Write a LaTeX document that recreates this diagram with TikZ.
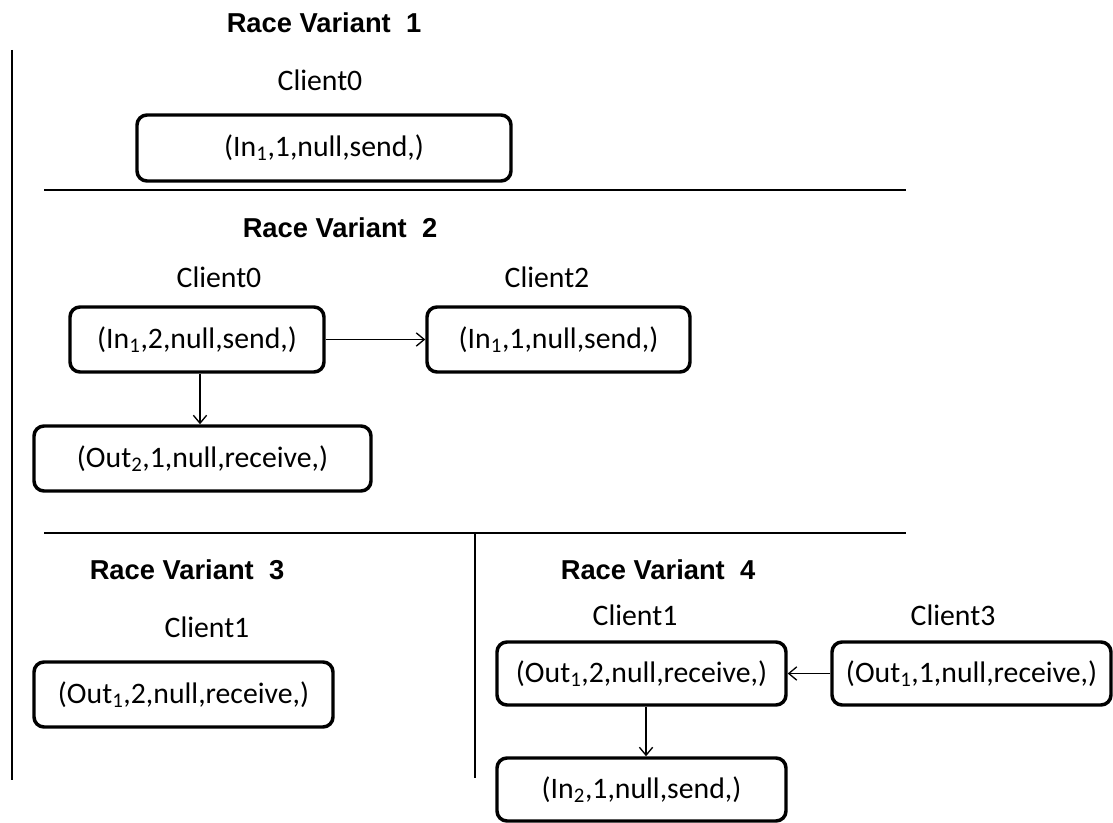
\documentclass[tikz,border=0pt]{standalone}
\usepackage{fontspec}
\setmainfont{Carlito}
\newfontfamily\headfont{Liberation Sans}
\usetikzlibrary{arrows.meta}
\begin{document}
\begin{tikzpicture}[x=0.75pt,y=-0.75pt,
  box/.style={draw,line width=2.6pt,rounded corners=7.5pt,inner sep=0pt,
    font=\fontsize{22.3pt}{26pt}\selectfont},
  heading/.style={font=\headfont\bfseries\fontsize{20.5pt}{24pt}\selectfont,inner sep=0pt},
  client/.style={font=\fontsize{22.3pt}{26pt}\selectfont,inner sep=0pt},
  rule/.style={line width=1.3pt},
  link/.style={line width=1pt,-{Straight Barb[length=6pt,width=10pt,line width=1pt]}}]
\useasboundingbox (0,0) rectangle (1113,823);

% frame rules
\draw[rule] (12,50) -- (12,780);
\draw[rule] (44,190) -- (906,190);
\draw[rule] (44,533) -- (906,533);
\draw[rule] (475,533) -- (475,778);

% Race Variant 1
\node[heading] (h1) at (324,23) {Race Variant\ \ 1};
\node[client] (c1) at (320,80) {Client0};
\node[box,minimum width=374*0.75pt,minimum height=66*0.75pt] (b1) at (324,148)
  {(In\textsubscript{1},1,null,send,)};

% Race Variant 2
\node[heading] (h2) at (340,228) {Race Variant\ \ 2};
\node[client] (c2a) at (219,277) {Client0};
\node[client] (c2b) at (547,277) {Client2};
\node[box,minimum width=254*0.75pt,minimum height=65*0.75pt] (b2a) at (197,339.5)
  {(In\textsubscript{1},2,null,send,)};
\node[box,minimum width=263*0.75pt,minimum height=65*0.75pt] (b2b) at (558.5,339.5)
  {(In\textsubscript{1},1,null,send,)};
\node[box,minimum width=337*0.75pt,minimum height=65*0.75pt] (b2c) at (202.5,458.5)
  {(Out\textsubscript{2},1,null,receive,)};
\draw[link] (b2a.east) -- (b2b.west);
\draw[link] ([xshift=2.25pt]b2a.south) -- ([xshift=2.25pt]b2a.south |- b2c.north);

% Race Variant 3
\node[heading] (h3) at (187,570) {Race Variant\ \ 3};
\node[client] (c3) at (207,627) {Client1};
\node[box,minimum width=299*0.75pt,minimum height=65*0.75pt] (b3) at (183.5,694.5)
  {(Out\textsubscript{1},2,null,receive,)};

% Race Variant 4
\node[heading] (h4) at (658,570) {Race Variant\ \ 4};
\node[client] (c4a) at (635,615) {Client1};
\node[client] (c4b) at (953,615) {Client3};
\node[box,minimum width=289*0.75pt,minimum height=63*0.75pt] (b4a) at (641.5,673.5)
  {(Out\textsubscript{1},2,null,receive,)};
\node[box,minimum width=279*0.75pt,minimum height=63*0.75pt] (b4b) at (971.5,673.5)
  {(Out\textsubscript{1},1,null,receive,)};
\node[box,minimum width=289*0.75pt,minimum height=63*0.75pt] (b4c) at (641.5,789.5)
  {(In\textsubscript{2},1,null,send,)};
\draw[link] (b4b.west) -- (b4a.east);
\draw[link] ([xshift=3.4pt]b4a.south) -- ([xshift=3.4pt]b4a.south |- b4c.north);
\end{tikzpicture}
\end{document}
